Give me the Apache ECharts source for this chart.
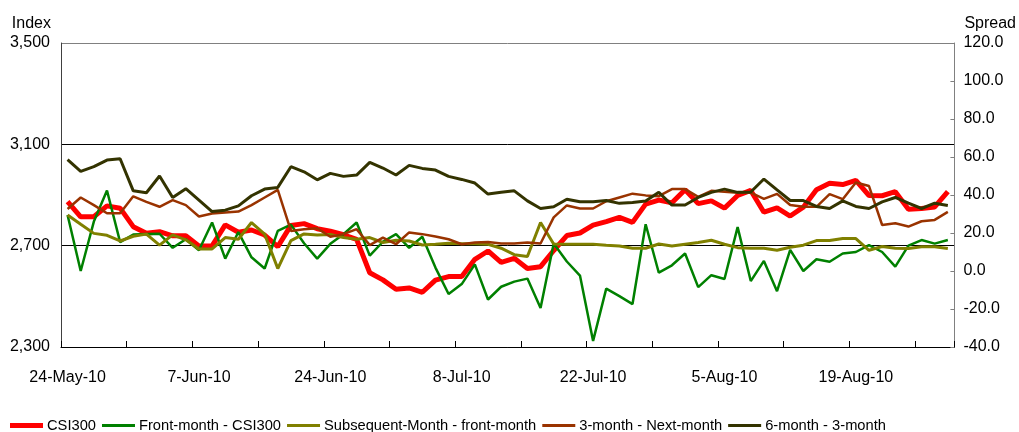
<!DOCTYPE html>
<html>
<head>
<meta charset="utf-8">
<script src="https://cdn.jsdelivr.net/npm/echarts@6/dist/echarts.min.js"></script>
<style>
html, body { margin: 0; padding: 0; background: #fff; }
#chart { width: 1019px; height: 432px; }
</style>
</head>
<body>
<div id="chart"></div>
<script>
// trading days, 24-May-10 .. 30-Aug-10
var dates = [
  '24-May-10','25-May-10','26-May-10','27-May-10','28-May-10',
  '31-May-10','1-Jun-10','2-Jun-10','3-Jun-10','4-Jun-10',
  '7-Jun-10','8-Jun-10','9-Jun-10','10-Jun-10','11-Jun-10',
  '17-Jun-10','18-Jun-10','21-Jun-10','22-Jun-10','23-Jun-10',
  '24-Jun-10','25-Jun-10','28-Jun-10','29-Jun-10','30-Jun-10',
  '1-Jul-10','2-Jul-10','5-Jul-10','6-Jul-10','7-Jul-10',
  '8-Jul-10','9-Jul-10','12-Jul-10','13-Jul-10','14-Jul-10',
  '15-Jul-10','16-Jul-10','19-Jul-10','20-Jul-10','21-Jul-10',
  '22-Jul-10','23-Jul-10','26-Jul-10','27-Jul-10','28-Jul-10',
  '29-Jul-10','30-Jul-10','2-Aug-10','3-Aug-10','4-Aug-10',
  '5-Aug-10','6-Aug-10','9-Aug-10','10-Aug-10','11-Aug-10',
  '12-Aug-10','13-Aug-10','16-Aug-10','17-Aug-10','18-Aug-10',
  '19-Aug-10','20-Aug-10','23-Aug-10','24-Aug-10','25-Aug-10',
  '26-Aug-10','27-Aug-10','30-Aug-10'
];

// left axis (Index)
var csi300 = [
  2874, 2814, 2814, 2857, 2848, 2775, 2749, 2755, 2739, 2739,
  2699, 2699, 2782, 2753, 2762, 2742, 2696, 2780, 2787, 2767,
  2757, 2743, 2725, 2593, 2565, 2528, 2533, 2516, 2564, 2578,
  2578, 2646, 2679, 2634, 2650, 2610, 2617, 2681, 2740, 2750,
  2781, 2795, 2812, 2792, 2864, 2880, 2869, 2921, 2866, 2877,
  2848, 2898, 2918, 2832, 2849, 2817, 2852, 2921, 2946, 2941,
  2958, 2898, 2897, 2913, 2844, 2847, 2853, 2913
];

// right axis (Spread)
var frontMonth = [
  29.5, 0.0, 26.0, 42.4, 15.2, 19.2, 19.5, 19.6, 12.2, 16.7,
  10.9, 25.5, 6.5, 20.5, 7.2, 1.3, 21.1, 24.4, 14.6, 6.5,
  14.3, 19.4, 25.5, 8.1, 15.4, 19.4, 12.2, 18.0, 1.8, -12.1,
  -6.9, 3.5, -15.0, -8.3, -5.6, -4.0, -19.5, 14.5, 5.0, -2.4,
  -36.8, -9.3, -13.2, -17.4, 24.6, -0.9, 3.0, 9.2, -8.5, -2.2,
  -4.2, 23.1, -5.3, 5.3, -10.6, 11.1, 0.0, 6.2, 4.9, 9.2,
  10.0, 13.6, 10.0, 2.3, 13.4, 16.3, 14.4, 16.3
];
var subsequentMonth = [
  29.5, 24.6, 19.8, 18.8, 15.8, 18.3, 19.4, 13.6, 19.0, 16.4,
  11.6, 11.6, 17.6, 16.7, 25.5, 19.4, 1.3, 16.0, 19.5, 18.9,
  19.2, 17.6, 16.7, 17.6, 15.0, 16.2, 15.8, 13.7, 14.1, 14.6,
  14.4, 14.4, 14.1, 12.0, 8.6, 7.6, 25.5, 14.2, 14.1, 14.1,
  14.1, 13.6, 13.2, 12.0, 12.0, 14.2, 13.2, 14.1, 15.0, 16.2,
  14.1, 12.3, 12.0, 12.0, 10.9, 12.5, 13.6, 16.0, 16.0, 17.1,
  17.1, 10.9, 12.9, 12.0, 11.9, 12.8, 12.8, 11.9
];
var threeMonth = [
  32.6, 38.7, 34.7, 30.4, 30.4, 39.3, 36.4, 33.8, 37.3, 34.7,
  28.7, 30.3, 30.8, 31.3, 34.7, 38.7, 42.7, 21.1, 22.0, 22.5,
  18.0, 19.4, 22.0, 13.6, 17.6, 14.1, 20.3, 19.4, 18.2, 16.7,
  14.1, 15.0, 15.3, 14.5, 14.5, 15.0, 14.5, 28.2, 34.5, 32.9,
  32.9, 36.7, 38.7, 40.7, 39.8, 39.4, 43.1, 43.1, 39.0, 42.2,
  41.7, 41.2, 41.2, 38.0, 40.6, 34.7, 33.8, 33.8, 40.5, 37.8,
  46.6, 44.7, 24.2, 25.1, 23.4, 26.2, 26.9, 31.1
];
var sixMonth = [
  58.6, 52.4, 54.9, 58.4, 59.1, 42.2, 41.2, 50.0, 38.7, 43.3,
  37.3, 31.3, 32.0, 34.3, 39.6, 43.1, 44.0, 54.9, 52.2, 48.0,
  51.4, 49.8, 50.5, 57.2, 54.2, 50.5, 55.6, 54.0, 53.1, 49.8,
  48.2, 46.3, 40.5, 41.4, 42.2, 36.9, 32.9, 33.8, 37.8, 36.4,
  36.4, 37.1, 35.6, 36.1, 36.9, 41.4, 34.7, 34.7, 38.7, 41.4,
  43.1, 41.4, 41.6, 48.4, 42.7, 37.1, 37.1, 34.0, 32.9, 36.9,
  34.0, 32.9, 36.4, 38.7, 35.7, 32.9, 35.7, 34.5
];

var FONT = "'Liberation Sans', Arial, sans-serif";
var AXIS_SIZE = 16;
var LEGEND_SIZE = 14.7;

var chart = echarts.init(document.getElementById('chart'));

function lineSeries(name, data, color, width, axisIndex) {
  return {
    name: name,
    type: 'line',
    yAxisIndex: axisIndex,
    data: data,
    symbol: 'none',
    animation: false,
    lineStyle: { color: color, width: width },
    itemStyle: { color: color }
  };
}

// legend sample: a plain bar as thick as the series line
function legendItem(name, thick) {
  return { name: name, icon: 'path://M0 0H33V' + thick + 'H0Z' };
}

var option = {
  backgroundColor: '#fff',
  textStyle: { fontFamily: FONT, color: '#000' },
  grid: { left: 61, right: 63, top: 43, height: 304 },
  legend: {
    left: 5,
    top: 413,
    itemWidth: 33,
    itemHeight: 14,
    itemGap: 6,
    textStyle: { fontFamily: FONT, fontSize: LEGEND_SIZE, color: '#000', padding: [0, 0, 0, -1] },
    data: [
      legendItem('CSI300', 5),
      legendItem('Front-month - CSI300', 3),
      legendItem('Subsequent-Month - front-month', 3),
      legendItem('3-month - Next-month', 3),
      legendItem('6-month - 3-month', 3)
    ]
  },
  xAxis: {
    type: 'category',
    data: dates,
    boundaryGap: true,
    axisLine: { onZero: false, lineStyle: { color: '#000', width: 1 } },
    axisTick: { show: true, inside: true, length: 6, interval: 4, lineStyle: { color: '#000' } },
    axisLabel: { interval: 9, fontSize: AXIS_SIZE, color: '#000', fontFamily: FONT, margin: 23 },
    splitLine: { show: false }
  },
  yAxis: [
    {
      type: 'value',
      min: 2300,
      max: 3500,
      interval: 400,
      position: 'left',
      name: 'Index',
      nameLocation: 'end',
      nameGap: 11,
      nameTextStyle: { fontFamily: FONT, fontSize: AXIS_SIZE, color: '#000', align: 'right', padding: [0, 10, 0, 0] },
      axisLine: { show: true, lineStyle: { color: '#404040' } },
      axisTick: { show: false },
      axisLabel: {
        fontSize: AXIS_SIZE, color: '#000', fontFamily: FONT, margin: 11,
        formatter: function (v) { return v.toLocaleString('en-US'); }
      },
      splitLine: { show: true, lineStyle: { color: ['#000', '#000', '#000', '#808080'], width: 1 } }
    },
    {
      type: 'value',
      min: -40,
      max: 120,
      interval: 20,
      position: 'right',
      name: 'Spread',
      nameLocation: 'end',
      nameGap: 11,
      nameTextStyle: { fontFamily: FONT, fontSize: AXIS_SIZE, color: '#000', align: 'left', padding: [0, 0, 0, 10] },
      axisLine: { show: true, lineStyle: { color: '#808080' } },
      axisTick: { show: true, inside: true, length: 4, lineStyle: { color: '#808080' } },
      axisLabel: {
        fontSize: AXIS_SIZE, color: '#000', fontFamily: FONT, margin: 9,
        formatter: function (v) { return v.toFixed(1); }
      },
      splitLine: { show: false }
    }
  ],
  series: [
    lineSeries('CSI300', csi300, '#FF0000', 5, 0),
    lineSeries('Front-month - CSI300', frontMonth, '#008000', 2.5, 1),
    lineSeries('Subsequent-Month - front-month', subsequentMonth, '#808000', 3, 1),
    lineSeries('3-month - Next-month', threeMonth, '#993300', 2.5, 1),
    lineSeries('6-month - 3-month', sixMonth, '#333300', 3, 1)
  ]
};

chart.setOption(option);
</script>
</body>
</html>
